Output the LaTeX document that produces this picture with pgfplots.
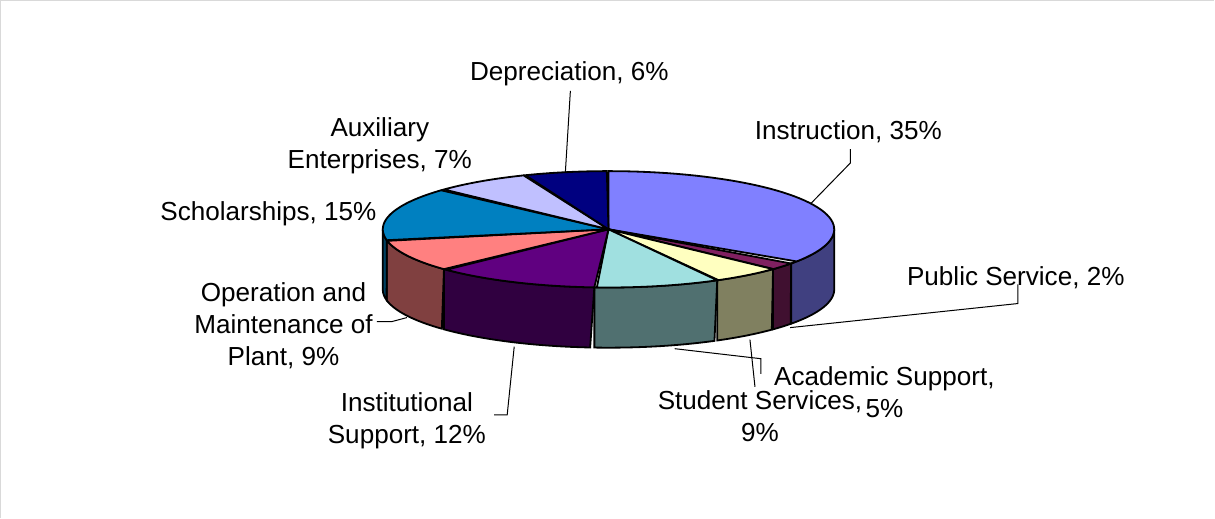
\documentclass[border=0pt]{standalone}
\usepackage{pgfplots}
\pgfplotsset{compat=1.18}
\usepackage{fontspec}
\setmainfont{Liberation Sans}
% top-face colours
\definecolor{tInstr}{HTML}{8080FF}
\definecolor{tPub}{HTML}{802060}
\definecolor{tAcad}{HTML}{FFFFC0}
\definecolor{tStud}{HTML}{A0E0E0}
\definecolor{tInst}{HTML}{600080}
\definecolor{tOper}{HTML}{FF8080}
\definecolor{tScho}{HTML}{0080C0}
\definecolor{tAux}{HTML}{C0C0FF}
\definecolor{tDep}{HTML}{000080}
% side colours
\definecolor{sInstr}{HTML}{404080}
\definecolor{sPub}{HTML}{401030}
\definecolor{sAcad}{HTML}{808060}
\definecolor{sStud}{HTML}{507070}
\definecolor{sInst}{HTML}{300040}
\definecolor{sOper}{HTML}{804040}
\definecolor{sScho}{HTML}{004060}
% data (percent): Instruction 35, Public Service 2, Academic Support 5,
% Student Services 9, Institutional Support 12, Operation 9,
% Scholarships 15, Auxiliary Enterprises 7, Depreciation 6
\pgfmathsetmacro{\aO}{90}
\pgfmathsetmacro{\aA}{\aO-3.6*35}
\pgfmathsetmacro{\aB}{\aA-3.6*2}
\pgfmathsetmacro{\aC}{\aB-3.6*5}
\pgfmathsetmacro{\aD}{\aC-3.6*9}
\pgfmathsetmacro{\aE}{\aD-3.6*12}
\pgfmathsetmacro{\aF}{\aE-3.6*9}
\pgfmathsetmacro{\aG}{\aF-3.6*15}
\pgfmathsetmacro{\aH}{\aG-3.6*7}
\pgfmathsetmacro{\aI}{\aH-3.6*6}
\newcommand{\sideface}[3]{%
 \addplot[fill=#3, draw=black, line width=0.9pt,
   samples at={0,0.025,...,1,1.0001,1.025,1.05,...,2}]
  ({611+225*cos(#1+(#2-#1)*min(x,2-x))},
   {233-58*sin(#1+(#2-#1)*min(x,2-x))+60*(x>1)}) -- cycle;}
\newcommand{\topface}[3]{%
 \addplot[fill=#3, draw=black, line width=0.9pt,
   samples at={0,0.02,...,1,1.0001}]
  ({611+225*(x<=1)*cos(#1+(#2-#1)*min(x,1))},
   {233-58*(x<=1)*sin(#1+(#2-#1)*min(x,1))}) -- cycle;}
\tikzset{lbl/.style={font=\fontsize{13}{16}\selectfont, align=center, inner sep=0pt}}
\begin{document}
\begin{tikzpicture}
\begin{axis}[width=607.5pt, height=260.5pt, scale only axis,
  xmin=0, xmax=1215, ymin=0, ymax=521, y dir=reverse,
  axis lines=none, clip=false]
% frame
\addplot[color=black!15, line width=0.6pt] coordinates {(5,521) (5,5) (1215,5)};
% side faces (front half)
\sideface{0}{\aA}{sInstr}
\sideface{\aA}{\aB}{sPub}
\sideface{\aB}{\aC}{sAcad}
\sideface{\aC}{\aD}{sStud}
\sideface{\aD}{\aE}{sInst}
\sideface{\aE}{\aF}{sOper}
\sideface{\aF}{-180}{sScho}
% top faces
\topface{\aO}{\aA}{tInstr}
\topface{\aA}{\aB}{tPub}
\topface{\aB}{\aC}{tAcad}
\topface{\aC}{\aD}{tStud}
\topface{\aD}{\aE}{tInst}
\topface{\aE}{\aF}{tOper}
\topface{\aF}{\aG}{tScho}
\topface{\aG}{\aH}{tAux}
\topface{\aH}{\aI}{tDep}
% leader lines
\addplot[black, line width=0.5pt] coordinates {(573,95) (568,176)};
\addplot[black, line width=0.5pt] coordinates {(852,153) (852,167) (813,207)};
\addplot[black, line width=0.5pt] coordinates {(1019,288) (1019,307) (792,331)};
\addplot[black, line width=0.5pt] coordinates {(752,343) (757,390)};
\addplot[black, line width=0.5pt] coordinates {(677,352) (763,362) (763,377)};
\addplot[black, line width=0.5pt] coordinates {(380,325) (395,325) (410,321)};
\addplot[black, line width=0.5pt] coordinates {(517,350) (510,418) (497,418)};
% labels
\node[lbl] at (axis cs:572,78) {Depreciation, 6\%};
\node[lbl] at (axis cs:850,136) {Instruction, 35\%};
\node[lbl] at (axis cs:383,150) {Auxiliary\\Enterprises, 7\%};
\node[lbl] at (axis cs:272,217) {Scholarships, 15\%};
\node[lbl] at (axis cs:1017,281) {Public Service, 2\%};
\node[lbl] at (axis cs:287,329) {Operation and\\Maintenance of\\Plant, 9\%};
\node[lbl] at (axis cs:410,424) {Institutional\\Support, 12\%};
\node[lbl] at (axis cs:886,395) {Academic Support,\\5\%};
\node[lbl] at (axis cs:762,419) {Student Services,\\9\%};
\end{axis}
\end{tikzpicture}
\end{document}
